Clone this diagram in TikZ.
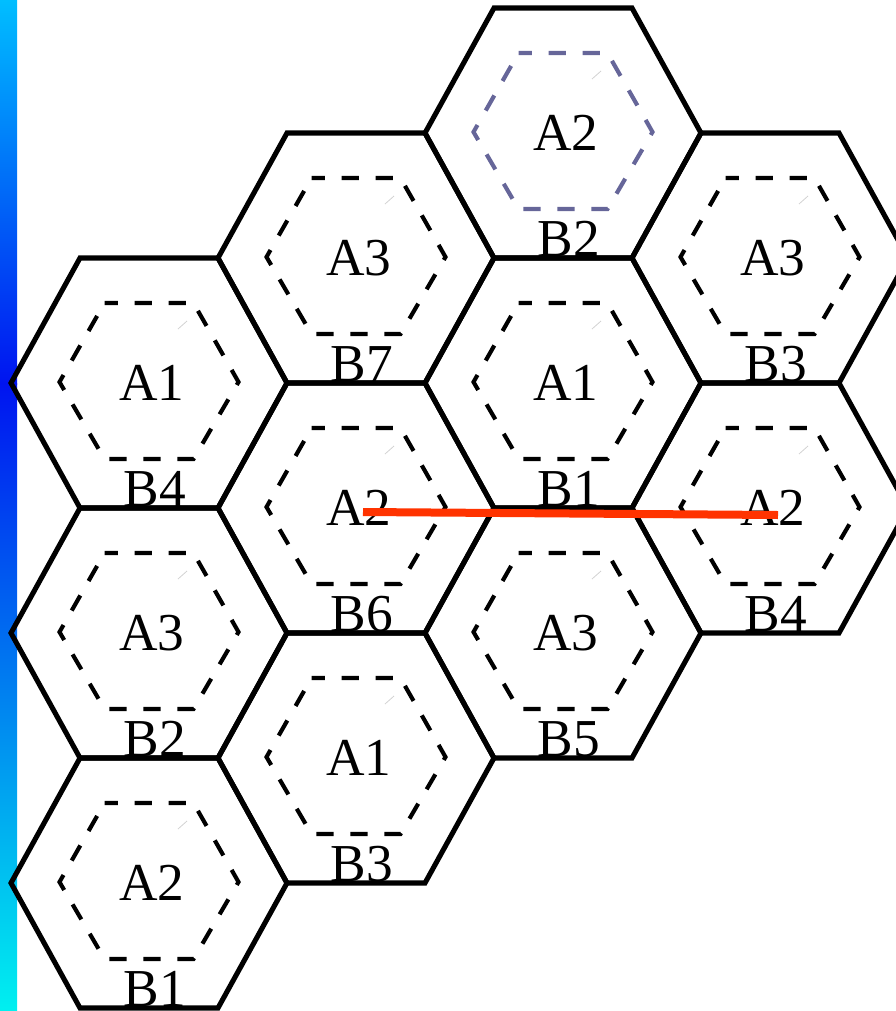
\documentclass[tikz,border=0pt]{standalone}
\usepackage{fontspec}
\setmainfont{Liberation Serif}
\usetikzlibrary{positioning}
\definecolor{bartop}{RGB}{0,190,255}
\definecolor{barmid}{RGB}{0,20,240}
\definecolor{barbot}{RGB}{0,240,240}
\definecolor{hexblue}{RGB}{102,102,153}
\definecolor{pathred}{RGB}{255,51,0}

\begin{document}
\begin{tikzpicture}[x=0.75pt,y=-0.75pt,
    hexline/.style={line width=3.8pt,line join=miter},
    innerhex/.style={line width=3.1pt,dash pattern=on 13pt off 12.5pt,dash phase=3pt},
    alabel/.style={inner sep=0pt,font=\fontsize{40}{48}\selectfont},
    blabel/.style={inner sep=0pt,anchor=base,font=\fontsize{40}{48}\selectfont}]
  \useasboundingbox (0,0) rectangle (896,1011);
  \clip (0,0) rectangle (896,1011);
  % colour bar
  \shade[top color=bartop,bottom color=barmid] (0,0) rectangle (17,384);
  \shade[top color=barmid,bottom color=barbot] (0,383) rectangle (17,1011);
  % cells
  \foreach \x/\y/\a/\b/\c/\n in {149/383/A1/B4/black/h1, 149/633/A3/B2/black/h2,
      149/883/A2/B1/black/h3, 356/258/A3/B7/black/h4, 356/508/A2/B6/black/h5,
      356/758/A1/B3/black/h6, 563/133/A2/B2/hexblue/h7, 563/383/A1/B1/black/h8,
      563/633/A3/B5/black/h9, 770/258/A3/B3/black/h10, 770/508/A2/B4/black/h11}{
    \draw[hexline] (\x-69,\y-125) -- (\x+69,\y-125) -- (\x+138,\y) -- (\x+69,\y+125)
      -- (\x-69,\y+125) -- (\x-138,\y) -- cycle;
    \draw[innerhex,\c] (\x-44.5,\y-80) -- (\x+44.5,\y-80) -- (\x+89.5,\y-1) -- (\x+44.5,\y+76)
      -- (\x-44.5,\y+76) -- (\x-89.5,\y-1) -- cycle;
    \draw[gray!35,line width=0.6pt] (\x+29,\y-54) -- (\x+38,\y-62);
    \node[alabel] (\n) at (\x+3,\y) {\a};
    \node[blabel] (\n-b) at (\x+6,\y+123) {\b};
  }
  \draw[pathred,line width=6pt] ([shift={(4,4)}]h5.center) -- ([shift={(5,7)}]h11.center);
\end{tikzpicture}
\end{document}
